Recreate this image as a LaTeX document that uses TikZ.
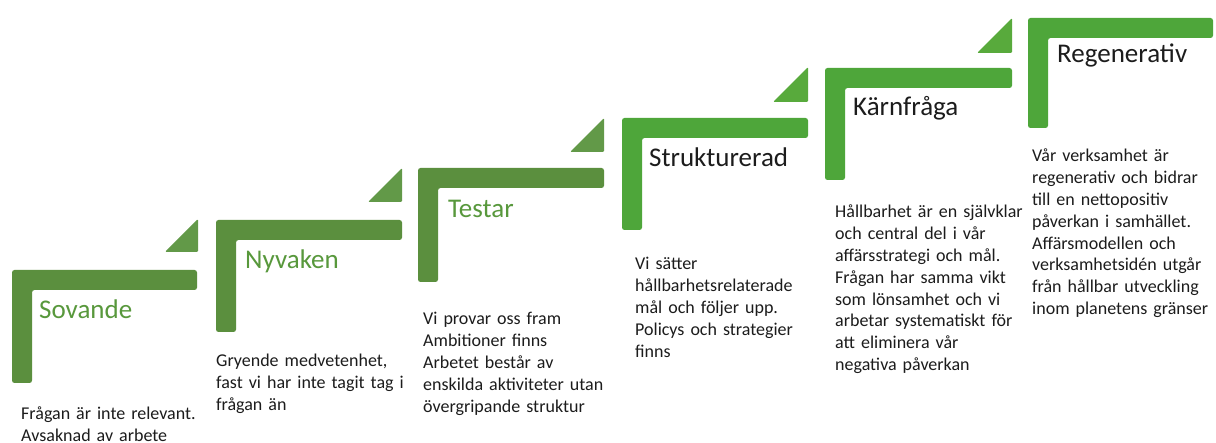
\documentclass[tikz,border=0pt]{standalone}
\usepackage{fontspec}
\setmainfont{Carlito}
\definecolor{barA}{RGB}{91,143,62}
\definecolor{triA}{RGB}{98,153,72}
\definecolor{barB}{RGB}{78,166,58}
\definecolor{triB}{RGB}{88,170,60}
\definecolor{titleA}{RGB}{88,152,60}
\definecolor{ink}{RGB}{28,28,28}
\newcommand{\bracketL}[5]{%
  \fill[#5, rounded corners=2.5pt] (#1,#4) -- (#1,#2) -- (#3,#2) -- (#3,#2+20) -- (#1+20,#2+20) -- (#1+20,#4) -- cycle;}
\newcommand{\stairtri}[4]{%
  \fill[#4, rounded corners=1.2pt] (#1-#3,#2) -- (#1,#2) -- (#1,#2-#3) -- cycle;}
\begin{document}
\begin{tikzpicture}[x=1pt,y=-1pt,
  titletext/.style={anchor=base west, inner sep=0pt, font=\fontsize{27}{32}\selectfont},
  desctext/.style={anchor=base west, inner sep=0pt, text width=210pt, align=left, text=ink,
    font=\fontsize{18}{21.8}\selectfont}]
\useasboundingbox (0,0) rectangle (1216,443);
\fill[white] (0,0) rectangle (1216,443);

% brackets
\bracketL{12}{270}{197}{383}{barA}
\bracketL{216}{220}{402}{332}{barA}
\bracketL{418}{168}{604}{282}{barA}
\bracketL{622}{118}{808}{230}{barB}
\bracketL{825}{68}{1012}{180}{barB}
\bracketL{1028}{18}{1213}{128}{barB}

% triangles
\stairtri{198}{252}{33}{triA}
\stairtri{402}{202}{34}{triA}
\stairtri{604}{152}{34}{triA}
\stairtri{808}{102}{35}{triB}
\stairtri{1012}{53}{35}{triB}

% titles
\node[titletext, text=titleA] (t1) at (39,319) {Sovande};
\node[titletext, text=titleA] (t2) at (245,269) {Nyvaken};
\node[titletext, text=titleA] (t3) at (448,218) {Testar};
\node[titletext, text=ink] (t4) at (649,167) {Strukturerad};
\node[titletext, text=ink] (t5) at (853,116) {Kärnfråga};
\node[titletext, text=ink] (t6) at (1057,63) {Regenerativ};

% descriptions
\node[desctext] (d1) at (21,420) {Frågan är inte relevant.\\Avsaknad av arbete};
\node[desctext] (d2) at (216,367) {Gryende medvetenhet,\\fast vi har inte tagit tag i\\frågan än};
\node[desctext] (d3) at (423,325) {Vi provar oss fram\\Ambitioner finns\\Arbetet består av\\enskilda aktiviteter utan\\övergripande struktur};
\node[desctext] (d4) at (635,270) {Vi sätter\\hållbarhetsrelaterade\\mål och följer upp.\\Policys och strategier\\finns};
\node[desctext] (d5) at (835,218) {Hållbarhet är en självklar\\och central del i vår\\affärsstrategi och mål.\\Frågan har samma vikt\\som lönsamhet och vi\\arbetar systematiskt för\\att eliminera vår\\negativa påverkan};
\node[desctext] (d6) at (1032,162) {Vår verksamhet är\\regenerativ och bidrar\\till en nettopositiv\\påverkan i samhället.\\Affärsmodellen och\\verksamhetsidén utgår\\från hållbar utveckling\\inom planetens gränser};
\end{tikzpicture}
\end{document}
